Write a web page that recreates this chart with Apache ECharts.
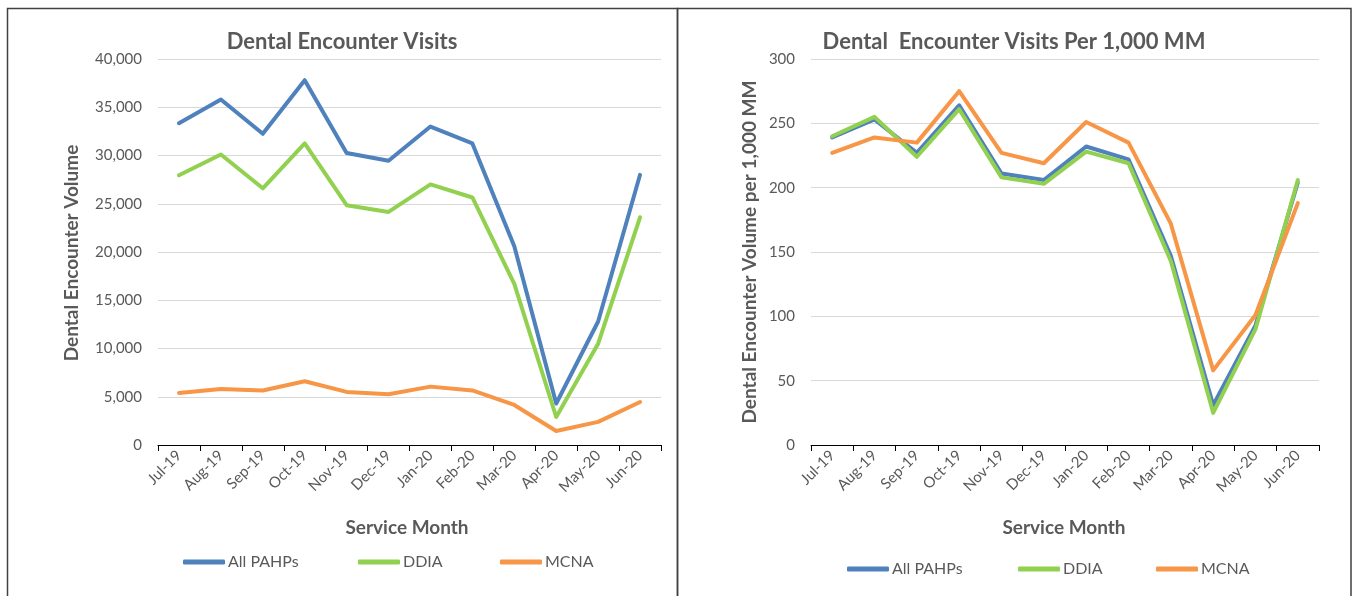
<!DOCTYPE html>
<html>
<head>
<meta charset="utf-8">
<script src="https://cdn.jsdelivr.net/npm/echarts@6/dist/echarts.min.js"></script>
<style>
  html, body { margin: 0; padding: 0; background: #fff; }
  #main { width: 1353px; height: 596px; }
</style>
</head>
<body>
<div id="main"></div>
<script>
var months = ['Jul-19','Aug-19','Sep-19','Oct-19','Nov-19','Dec-19','Jan-20','Feb-20','Mar-20','Apr-20','May-20','Jun-20'];

// visits
var visitsAll  = [33350, 35800, 32250, 37800, 30250, 29450, 33000, 31250, 20600, 4300, 12800, 28000];
var visitsDdia = [27950, 30100, 26600, 31250, 24850, 24150, 27000, 25650, 16700, 2900, 10500, 23600];
var visitsMcna = [5400, 5800, 5650, 6600, 5500, 5250, 6050, 5650, 4150, 1450, 2400, 4450];

// visits per 1,000 MM
var rateAll  = [239, 253, 227, 264, 211, 206, 232, 222, 147, 31, 93, 204];
var rateDdia = [240, 255, 224, 261, 208, 203, 228, 219, 143, 25, 90, 206];
var rateMcna = [227, 239, 235, 275, 227, 219, 251, 235, 172, 58, 101, 188];

var seriesNames = ['All PAHPs', 'DDIA', 'MCNA'];
var colors = ['#4f81bd', '#92d050', '#f79646'];

var txt = '#595959';
var font = 'Lato';

var myChart = echarts.init(document.getElementById('main'));

function xAxis(idx) {
  return {
    type: 'category', gridIndex: idx, data: months, boundaryGap: true,
    axisLine: { lineStyle: { color: '#000', width: 1 } },
    axisTick: { show: true, length: 6, lineStyle: { color: '#000' } },
    axisLabel: { rotate: 45, color: txt, fontFamily: font, fontSize: 15, margin: 8, interval: 0 },
    splitLine: { show: false }
  };
}

function yAxis(idx, max, interval) {
  return {
    type: 'value', gridIndex: idx, min: 0, max: max, interval: interval,
    axisLine: { show: false }, axisTick: { show: false },
    axisLabel: {
      color: txt, fontFamily: font, fontSize: 15, margin: 16,
      formatter: function (v) { return v.toLocaleString('en-US'); }
    },
    splitLine: { lineStyle: { color: '#d9d9d9', width: 1 } }
  };
}

function line(name, idx, data, color) {
  return {
    name: name, type: 'line', xAxisIndex: idx, yAxisIndex: idx, data: data,
    showSymbol: false, symbol: 'none', smooth: false, animation: false,
    lineStyle: { color: color, width: 4, cap: 'round', join: 'round' },
    itemStyle: { color: color }
  };
}

function legendItem(name, left, top) {
  return {
    data: [name], left: left, top: top, icon: 'roundRect', padding: 0,
    itemWidth: 42, itemHeight: 5, itemGap: 0,
    textStyle: { color: txt, fontFamily: font, fontSize: 16, padding: [0, 0, 0, -2] }
  };
}

function label(text, x, y, size, rot) {
  return {
    type: 'text', x: x, y: y, rotation: rot || 0,
    style: {
      text: text, fill: txt, font: 'bold ' + size + 'px ' + font,
      textAlign: 'center', textVerticalAlign: 'middle'
    }
  };
}

option = {
  backgroundColor: '#fff',
  animation: false,
  grid: [
    { left: 158, top: 59, width: 503, height: 386 },
    { left: 811, top: 59, width: 508, height: 386 }
  ],
  xAxis: [xAxis(0), xAxis(1)],
  yAxis: [yAxis(0, 40000, 5000), yAxis(1, 300, 50)],
  legend: [
    legendItem(seriesNames[0], 183, 554),
    legendItem(seriesNames[1], 358, 554),
    legendItem(seriesNames[2], 500, 554),
    legendItem(seriesNames[0], 847, 561),
    legendItem(seriesNames[1], 1018, 561),
    legendItem(seriesNames[2], 1156, 561)
  ],
  series: [
    line(seriesNames[0], 0, visitsAll, colors[0]),
    line(seriesNames[1], 0, visitsDdia, colors[1]),
    line(seriesNames[2], 0, visitsMcna, colors[2]),
    line(seriesNames[0], 1, rateAll, colors[0]),
    line(seriesNames[1], 1, rateDdia, colors[1]),
    line(seriesNames[2], 1, rateMcna, colors[2])
  ],
  graphic: [
    // panel borders
    { type: 'rect', shape: { x: 7.5, y: 8.5, width: 670, height: 600 },
      style: { fill: 'none', stroke: '#404040', lineWidth: 1.5 } },
    { type: 'rect', shape: { x: 677.5, y: 8.5, width: 673.5, height: 600 },
      style: { fill: 'none', stroke: '#404040', lineWidth: 1.5 } },
    label('Dental Encounter Visits', 342, 42, 22),
    label('Dental  Encounter Visits Per 1,000 MM', 1014, 42, 22),
    label('Dental Encounter Volume', 72, 253, 19, Math.PI / 2),
    label('Dental Encounter Volume per 1,000 MM', 750, 252, 19, Math.PI / 2),
    label('Service Month', 407, 528, 19),
    label('Service Month', 1064, 528, 19)
  ]
};

myChart.setOption(option);
</script>
</body>
</html>
